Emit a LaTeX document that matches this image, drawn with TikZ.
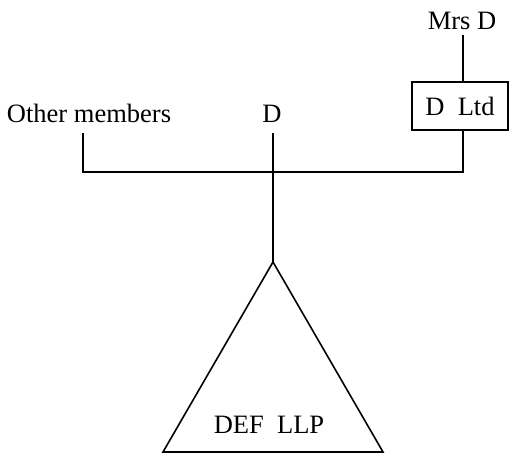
\documentclass[tikz,border=0pt]{standalone}
\usepackage{fontspec}
\setmainfont{Liberation Serif}
\begin{document}
\begin{tikzpicture}[x=1pt,y=-1pt,
  lbl/.style={font=\fontsize{26.5}{30}\selectfont, inner sep=0pt, anchor=base},
  conn/.style={line width=1.6pt},
  boxed/.style={draw, line width=1.6pt, minimum width=96pt, minimum height=48pt, inner sep=0pt, font=\fontsize{26.5}{30}\selectfont}]
\useasboundingbox (0,0) rectangle (509,454);
% labels
\node[lbl] (mrsd) at (462,30) {Mrs D};
\node[lbl] (om) at (89,123) {Other members};
\node[lbl] (d) at (272,123) {D};
\node[boxed] (dltd) at (460,106) {D\ \ Ltd};
% junction points
\coordinate (mrsdend) at (463,35);
\coordinate (omtop) at (83,133);
\coordinate (dtop) at (273,133);
\coordinate (left) at (83,172);
\coordinate (mid) at (273,172);
\coordinate (right) at (463,172);
% triangle
\coordinate (apex) at (273,262);
\coordinate (bl) at (163,452);
\coordinate (br) at (383,452);
\draw[conn, line join=miter] (apex) -- (br) -- (bl) -- cycle;
\node[lbl] (llp) at (269,433) {DEF\ \ LLP};
% connectors
\draw[conn] (mrsdend) -- (dltd.north -| mrsdend);
\draw[conn] (dltd.south -| right) -- (right) -- (left) -- (omtop);
\draw[conn] (dtop) -- (apex);
\end{tikzpicture}
\end{document}
